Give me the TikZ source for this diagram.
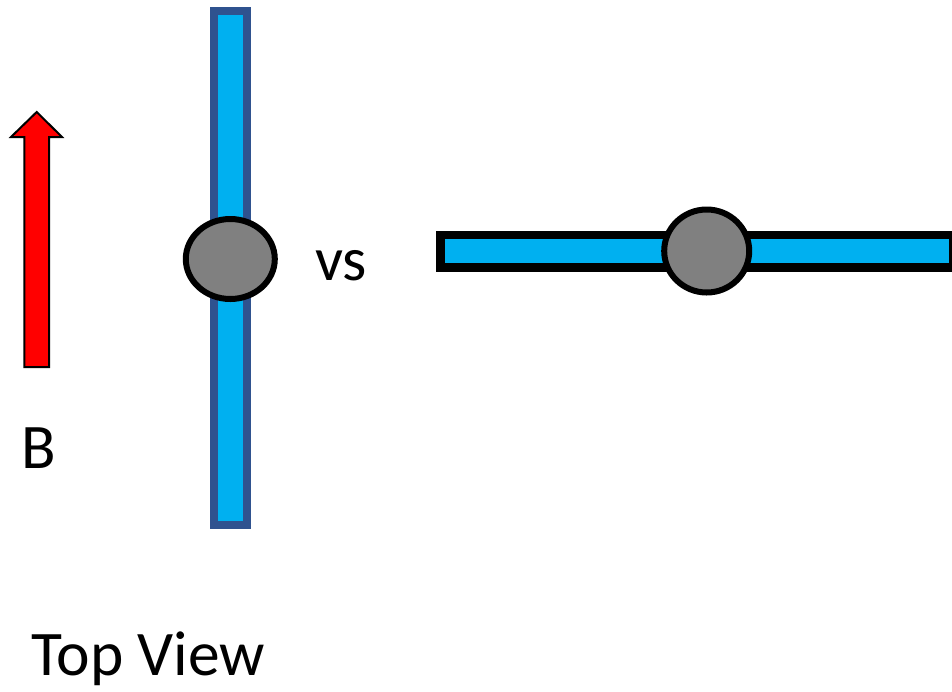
\documentclass[tikz,border=0pt]{standalone}
\usepackage{fontspec}
\setmainfont{Carlito}
\usetikzlibrary{shapes.geometric}
\definecolor{barblue}{HTML}{00B0F0}
\definecolor{edgeblue}{HTML}{2F528F}
\definecolor{pivotgray}{HTML}{808080}
\tikzset{
  x=1pt, y=-1pt,
  bar/.style={draw, rectangle, fill=barblue, inner sep=0pt},
  pivot/.style={draw=black, ellipse, fill=pivotgray, line width=6pt, inner sep=0pt},
  label/.style={inner sep=0pt, anchor=base west, font=\fontsize{63.5}{70}\selectfont}
}
\begin{document}
\begin{tikzpicture}
\useasboundingbox (0,0) rectangle (952,691);
% field arrow
\draw[fill=red, line width=2pt, line join=miter]
  (24.3,367) -- (24.3,137) -- (11,137) -- (36.7,112) -- (62,137) -- (49,137) -- (49,367) -- cycle;
\node[label] (bfield) at (21,468.3) {B};
% rod aligned with the field
\node[bar, draw=edgeblue, line width=8pt, minimum width=33pt, minimum height=513.5pt] (rodv) at (230.5,267.75) {};
\node[pivot, minimum width=89pt, minimum height=80pt] (pivv) at (230.3,259) {};
\node[label, font=\fontsize{62}{68}\selectfont] (vs) at (315,280) {vs};
% rod across the field
\node[bar, draw=black, line width=8.5pt, minimum width=513pt, minimum height=32.5pt] (rodh) at (697,251.25) {};
\node[pivot, minimum width=85pt, minimum height=83pt] (pivh) at (706.7,251) {};
\node[label] (view) at (31,675) {Top View};
\end{tikzpicture}
\end{document}
